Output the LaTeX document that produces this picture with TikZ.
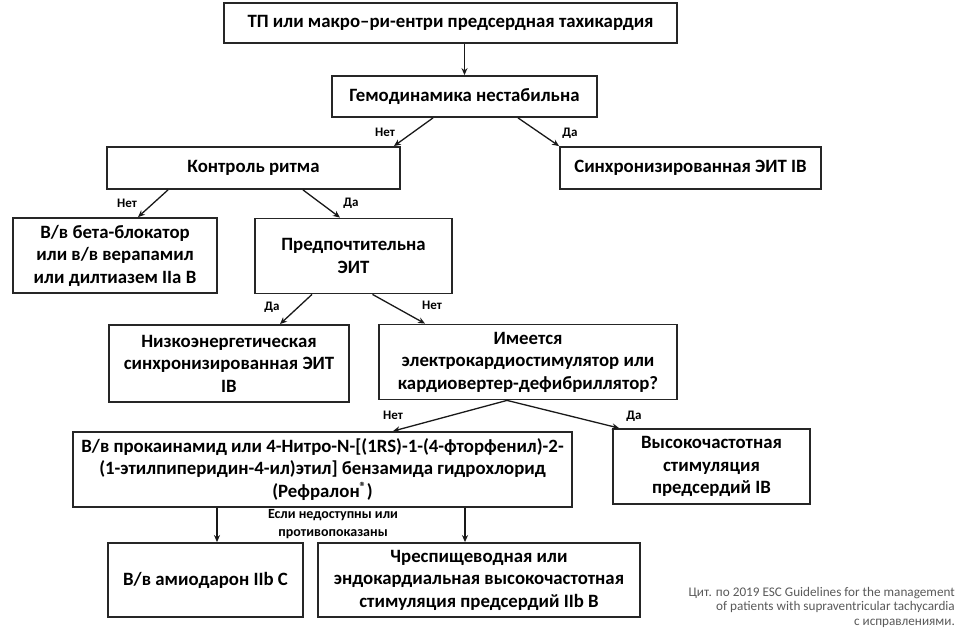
\documentclass[tikz,border=0pt]{standalone}
\usepackage{fontspec}
\setmainfont{Carlito}
\usetikzlibrary{arrows.meta}
\begin{document}
\begin{tikzpicture}[x=1pt,y=-1pt,
  box/.style={draw=black!85, line width=1.8pt, fill=white, align=center,
    font=\bfseries\fontsize{18.8}{22.5}\selectfont, inner sep=0pt},
  arr/.style={draw=black!90, line width=1.3pt, -{Stealth[length=7pt,width=6pt]}},
  lbl/.style={font=\bfseries\fontsize{13}{15}\selectfont, inner sep=0pt},
  note/.style={font=\bfseries\fontsize{14}{18.5}\selectfont, align=center, inner sep=0pt},
  foot/.style={font=\fontsize{13.2}{14.6}\selectfont, text=black!65, align=right, inner sep=0pt}
]
\useasboundingbox (0,0) rectangle (960,637);

\node[box, minimum width=453pt, minimum height=40pt] (top) at (450.5,23) {ТП или макро–ри-ентри предсердная тахикардия};
\node[box, minimum width=265pt, minimum height=41pt] (hemo) at (464.5,96.5) {Гемодинамика нестабильна};
\node[box, minimum width=293pt, minimum height=42pt] (ritm) at (253.5,168) {Контроль ритма};
\node[box, minimum width=261pt, minimum height=42pt] (sync) at (690.5,168) {Синхронизированная ЭИТ IB};
\node[box, minimum width=204pt, minimum height=75pt] (beta) at (115,255.5) {В/в бета-блокатор\\или в/в верапамил\\или дилтиазем IIa B};
\node[box, minimum width=197pt, minimum height=75pt] (pref) at (353.5,256) {Предпочтительна\\ЭИТ};
\node[box, minimum width=240pt, minimum height=77pt] (low) at (229,363.5) {Низкоэнергетическая\\синхронизированная ЭИТ\\IB};
\node[box, minimum width=298pt, minimum height=75pt] (pacer) at (528,362) {Имеется\\электрокардиостимулятор или\\кардиовертер-дефибриллятор?};
\node[box, minimum width=499pt, minimum height=75pt] (proc) at (322.5,469.5) {В/в прокаинамид или 4-Нитро-N-[(1RS)-1-(4-фторфенил)-2-\\(1-этилпиперидин-4-ил)этил] бензамида гидрохлорид\\(Рефралон\textsuperscript{®})};
\node[box, minimum width=197pt, minimum height=75pt] (hf) at (711.5,466.5) {Высокочастотная\\стимуляция\\предсердий IB};
\node[box, minimum width=195pt, minimum height=74pt] (amio) at (205.5,580) {В/в амиодарон IIb C};
\node[box, minimum width=322pt, minimum height=74pt] (tee) at (479,580) {Чреспищеводная или\\эндокардиальная высокочастотная\\стимуляция предсердий IIb B};

% connectors
\draw[arr] (top.south -| hemo.north) -- (hemo.north);
\draw[arr] ([xshift=-31.5pt]hemo.south) -- ([xshift=-7pt]ritm.north east);
\draw[arr] ([xshift=53.5pt]hemo.south) -- (sync.north west);
\draw[arr] ([xshift=-85.5pt]ritm.south) -- ([xshift=23pt]beta.north);
\draw[arr] ([xshift=49.5pt]ritm.south) -- ([xshift=-13.5pt]pref.north);
\draw[arr] ([xshift=-41.5pt]pref.south) -- ([xshift=51pt]low.north);
\draw[arr] ([xshift=19pt]pref.south) -- ([xshift=-103pt]pacer.north);
\draw[arr] ([xshift=-21pt]pacer.south) -- ([xshift=70.5pt]proc.north);
\draw[arr] ([xshift=-21pt]pacer.south) -- ([xshift=7pt]hf.north west);
\coordinate (a1) at ([xshift=11.5pt]amio.north);
\coordinate (a2) at ([xshift=-14pt]tee.north);
\draw[arr] (proc.south -| a1) -- (a1);
\draw[arr] (proc.south -| a2) -- (a2);

% labels
\node[lbl] (l1) at (385,132) {Нет};
\node[lbl] (l2) at (570,133) {Да};
\node[lbl] (l3) at (127,203) {Нет};
\node[lbl] (l4) at (351,203) {Да};
\node[lbl] (l5) at (272,307) {Да};
\node[lbl] (l6) at (432,305) {Нет};
\node[lbl] (l7) at (393,415) {Нет};
\node[lbl] (l8) at (634,416) {Да};
\node[note] (n1) at (333,524) {Если недоступны или\\противопоказаны};

\node[foot, anchor=north east] (ft) at (955,587) {Цит. по 2019 ESC Guidelines for the management\\of patients with supraventricular tachycardia\\с исправлениями.};
\end{tikzpicture}
\end{document}
